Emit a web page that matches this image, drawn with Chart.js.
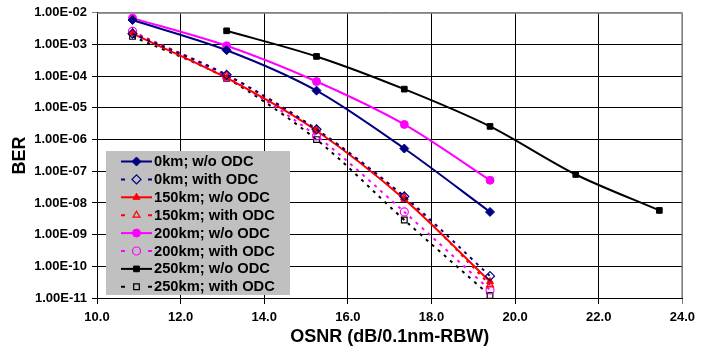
<!DOCTYPE html>
<html>
<head>
<meta charset="utf-8">
<script src="https://cdn.jsdelivr.net/npm/chart.js@4.4.1/dist/chart.umd.min.js"></script>
<style>
    body { margin: 0; background: #fff; }
    #wrap { width: 701px; height: 349px; }
</style>
</head>
<body>
<div id="wrap"><canvas id="graficoBer" width="701" height="349"></canvas></div>
<script>
// OSNR values (dB/0.1nm-RBW)
const osnr = [10.85, 13.1, 15.25, 17.35, 19.4];
const osnr250Wo = [13.1, 15.25, 17.35, 19.4, 21.45, 23.45];

// BER per series
const ber0kmWo = [5.9e-3, 6.6e-4, 3.5e-5, 5.2e-7, 5.2e-9];
const ber0kmWith = [2.2e-3, 1.1e-4, 2.1e-6, 1.6e-8, 4.9e-11];
const ber150kmWo = [2.2e-3, 8.8e-5, 1.9e-6, 1.3e-8, 3.3e-11];
const ber150kmWith = [2.4e-3, 1.1e-4, 2.1e-6, 1.5e-8, 2.6e-11];
const ber200kmWo = [6.8e-3, 9.1e-4, 6.8e-5, 3.0e-6, 5.2e-8];
const ber200kmWith = [2.6e-3, 9.5e-5, 1.3e-6, 5.2e-9, 1.8e-11];
const ber250kmWo = [2.7e-3, 4.2e-4, 3.9e-5, 2.6e-6, 7.9e-8, 5.8e-9];
const ber250kmWith = [1.8e-3, 8.6e-5, 1.0e-6, 2.9e-9, 1.2e-11];

const seriesLabels = ['0km; w/o ODC', '0km; with ODC', '150km; w/o ODC', '150km; with ODC',
    '200km; w/o ODC', '200km; with ODC', '250km; w/o ODC', '250km; with ODC'];

// tick labels
const xTickValues = [10, 12, 14, 16, 18, 20, 22, 24];
const xTickLabels = ['10.0', '12.0', '14.0', '16.0', '18.0', '20.0', '22.0', '24.0'];
const yTickValues = [1e-2, 1e-3, 1e-4, 1e-5, 1e-6, 1e-7, 1e-8, 1e-9, 1e-10, 1e-11];
const yTickLabels = ['1.00E-02', '1.00E-03', '1.00E-04', '1.00E-05', '1.00E-06',
    '1.00E-07', '1.00E-08', '1.00E-09', '1.00E-10', '1.00E-11'];

const pontos = (xs, ys) => ys.map((y, i) => ({ x: xs[i], y }));

function serie(label, xs, ys, cor, estilo, aberto) {
    return {
        label,
        data: pontos(xs, ys),
        borderColor: cor,
        backgroundColor: aberto ? 'rgba(0,0,0,0)' : cor,
        borderWidth: 2,
        borderDash: aberto ? [3, 5] : [],
        pointStyle: estilo,
        pointRadius: estilo === 'rectRot' ? 4.5 : 4,
        pointBorderWidth: aberto ? 1.2 : 1,
        pointBorderColor: cor,
        pointBackgroundColor: aberto ? 'rgba(0,0,0,0)' : cor,
        tension: 0.3,
        aberto
    };
}

const datasets = [
    serie(seriesLabels[0], osnr, ber0kmWo, '#000080', 'rectRot', false),
    serie(seriesLabels[1], osnr, ber0kmWith, '#000080', 'rectRot', true),
    serie(seriesLabels[2], osnr, ber150kmWo, '#ff0000', 'triangle', false),
    serie(seriesLabels[3], osnr, ber150kmWith, '#ff0000', 'triangle', true),
    serie(seriesLabels[4], osnr, ber200kmWo, '#ff00ff', 'circle', false),
    serie(seriesLabels[5], osnr, ber200kmWith, '#ff00ff', 'circle', true),
    serie(seriesLabels[6], osnr250Wo, ber250kmWo, '#000000', 'rect', false),
    serie(seriesLabels[7], osnr, ber250kmWith, '#000000', 'rect', true)
];

// gray border on top and right of the plot area
const bordaPlot = {
    id: 'bordaPlot',
    beforeDatasetsDraw(chart) {
        const { ctx, chartArea: a } = chart;
        ctx.save();
        ctx.strokeStyle = '#808080';
        ctx.lineWidth = 1;
        ctx.beginPath();
        ctx.moveTo(a.left, a.top + 0.5);
        ctx.lineTo(a.right - 0.5, a.top + 0.5);
        ctx.lineTo(a.right - 0.5, a.bottom);
        ctx.stroke();
        ctx.restore();
    }
};

// legend box inside the plot
const legendaInterna = {
    id: 'legendaInterna',
    afterDatasetsDraw(chart) {
        const ctx = chart.ctx;
        const box = { x: 106, y: 151, w: 184, h: 144 };
        ctx.save();
        ctx.fillStyle = '#c0c0c0';
        ctx.fillRect(box.x, box.y, box.w, box.h);
        ctx.font = 'bold 14.7px "Liberation Sans", Arial, sans-serif';
        ctx.textBaseline = 'middle';
        chart.data.datasets.forEach((ds, i) => {
            const y = 161.5 + i * 17.9;
            const x0 = 121, x1 = 152, xm = 136.5;
            ctx.strokeStyle = ds.borderColor;
            ctx.lineWidth = 2;
            ctx.beginPath();
            if (ds.aberto) {
                ctx.moveTo(x0, y); ctx.lineTo(x0 + 4, y);
                ctx.moveTo(x1 - 4, y); ctx.lineTo(x1, y);
            } else {
                ctx.moveTo(x0, y); ctx.lineTo(x1, y);
            }
            ctx.stroke();
            ctx.fillStyle = ds.pointBackgroundColor;
            ctx.strokeStyle = ds.borderColor;
            ctx.lineWidth = ds.pointBorderWidth;
            Chart.helpers.drawPoint(ctx, {
                pointStyle: ds.pointStyle,
                radius: ds.pointRadius,
                rotation: 0,
                borderWidth: ds.pointBorderWidth
            }, xm, y);
            ctx.fillStyle = '#000';
            ctx.fillText(ds.label, 154, y + 0.5);
        });
        ctx.restore();
    }
};

const fonteTick = { family: '"Liberation Sans", Arial, sans-serif', size: 13, weight: 'bold' };
const fonteTitulo = { family: '"Liberation Sans", Arial, sans-serif', size: 18, weight: 'bold' };

new Chart(document.getElementById('graficoBer'), {
    type: 'line',
    data: { datasets },
    options: {
        responsive: false,
        animation: false,
        layout: { padding: { top: 10, right: 14, left: 0, bottom: 0 } },
        plugins: {
            legend: { display: false },
            tooltip: { enabled: false }
        },
        scales: {
            x: {
                type: 'linear',
                min: 10,
                max: 24,
                afterBuildTicks: s => { s.ticks = xTickValues.map(v => ({ value: v })); },
                afterFit: s => { s.height = 51; },
                ticks: {
                    color: '#000',
                    font: fonteTick,
                    padding: 6,
                    maxRotation: 0,
                    callback: v => xTickLabels[xTickValues.indexOf(v)]
                },
                grid: {
                    color: ctx => (ctx.tick && ctx.tick.value === 24) ? '#808080' : '#000',
                    lineWidth: 1,
                    tickLength: 6
                },
                border: { color: '#000', width: 1 },
                title: {
                    display: true,
                    text: 'OSNR (dB/0.1nm-RBW)',
                    color: '#000',
                    font: fonteTitulo,
                    padding: { top: 0, bottom: 1 }
                }
            },
            y: {
                type: 'logarithmic',
                min: 1e-11,
                max: 1e-2,
                afterBuildTicks: s => { s.ticks = yTickValues.map(v => ({ value: v })); },
                afterFit: s => { s.width = 97; },
                ticks: {
                    color: '#000',
                    font: fonteTick,
                    padding: 5,
                    callback: (v, i) => yTickLabels[i]
                },
                grid: {
                    color: ctx => (ctx.tick && ctx.tick.value === 1e-2) ? '#808080' : '#000',
                    lineWidth: 1,
                    tickLength: 5
                },
                border: { color: '#000', width: 1 },
                title: {
                    display: true,
                    text: 'BER',
                    color: '#000',
                    font: fonteTitulo,
                    padding: { top: 9, bottom: 0 }
                }
            }
        }
    },
    plugins: [bordaPlot, legendaInterna]
});
</script>
</body>
</html>
